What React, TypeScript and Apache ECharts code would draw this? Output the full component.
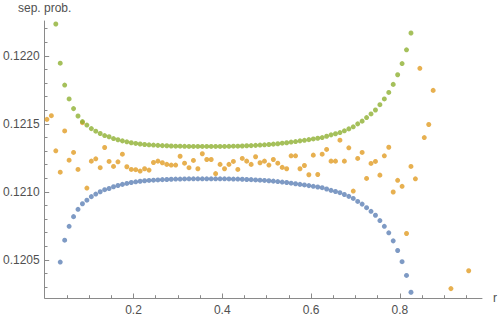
import React, { useEffect, useRef } from "react";
import * as echarts from "echarts";

// r values shared by the blue and green series
const rValues = [
  0.025, 0.035, 0.045, 0.055, 0.065, 0.075, 0.085, 0.095, 0.105, 0.115,
  0.125, 0.135, 0.145, 0.155, 0.165, 0.175, 0.185, 0.195, 0.205, 0.215,
  0.225, 0.235, 0.245, 0.255, 0.265, 0.275, 0.285, 0.295, 0.305, 0.315,
  0.325, 0.335, 0.345, 0.355, 0.365, 0.375, 0.385, 0.395, 0.405, 0.415,
  0.425, 0.435, 0.445, 0.455, 0.465, 0.475, 0.485, 0.495, 0.505, 0.515,
  0.525, 0.535, 0.545, 0.555, 0.565, 0.575, 0.585, 0.595, 0.605, 0.615,
  0.625, 0.635, 0.645, 0.655, 0.665, 0.675, 0.685, 0.695, 0.705, 0.715,
  0.725, 0.735, 0.745, 0.755, 0.765, 0.775, 0.785, 0.795, 0.805, 0.815,
  0.825,
];

const blueValues = [
  0.120196, 0.120484, 0.120645, 0.120747, 0.120818, 0.120872, 0.120913, 0.120939, 0.120965, 0.120984,
  0.121001, 0.121016, 0.121025, 0.121038, 0.121047, 0.121055, 0.121062, 0.121069, 0.121074, 0.121078,
  0.121082, 0.121084, 0.121086, 0.121088, 0.12109, 0.121091, 0.121093, 0.121094, 0.121094, 0.121095,
  0.121096, 0.121096, 0.121096, 0.121096, 0.121096, 0.121096, 0.121096, 0.121096, 0.121096, 0.121095,
  0.121094, 0.121094, 0.121093, 0.121091, 0.12109, 0.121088, 0.121086, 0.121084, 0.121082, 0.121079,
  0.121076, 0.121072, 0.121069, 0.121064, 0.12106, 0.121055, 0.121051, 0.121046, 0.121041, 0.121036,
  0.121031, 0.121021, 0.121011, 0.121003, 0.120994, 0.120981, 0.120967, 0.120952, 0.12093, 0.12091,
  0.120884, 0.120857, 0.120828, 0.120789, 0.120747, 0.120699, 0.12064, 0.120569, 0.120487, 0.120386,
  0.120262,
];

const greenValues = [
  0.122234, 0.121946, 0.121785, 0.121683, 0.121612, 0.121558, 0.121517, 0.121491, 0.121465, 0.121446,
  0.121429, 0.121414, 0.121405, 0.121392, 0.121383, 0.121375, 0.121368, 0.121361, 0.121356, 0.121352,
  0.121348, 0.121346, 0.121344, 0.121342, 0.12134, 0.121339, 0.121337, 0.121336, 0.121336, 0.121335,
  0.121334, 0.121334, 0.121334, 0.121334, 0.121334, 0.121334, 0.121334, 0.121334, 0.121334, 0.121335,
  0.121336, 0.121336, 0.121337, 0.121339, 0.12134, 0.121342, 0.121344, 0.121346, 0.121348, 0.121351,
  0.121354, 0.121358, 0.121361, 0.121366, 0.12137, 0.121375, 0.121379, 0.121384, 0.121389, 0.121394,
  0.121399, 0.121409, 0.121419, 0.121427, 0.121436, 0.121449, 0.121463, 0.121478, 0.1215, 0.12152,
  0.121546, 0.121573, 0.121602, 0.121641, 0.121683, 0.121731, 0.12179, 0.121861, 0.121943, 0.122044,
  0.122168,
];

const orangeR = [
  0.005, 0.015, 0.025, 0.035, 0.045, 0.055, 0.065, 0.075, 0.085, 0.095,
  0.105, 0.115, 0.125, 0.135, 0.145, 0.155, 0.165, 0.175, 0.185, 0.195,
  0.205, 0.215, 0.225, 0.235, 0.245, 0.255, 0.265, 0.275, 0.285, 0.295,
  0.305, 0.315, 0.325, 0.335, 0.345, 0.355, 0.365, 0.375, 0.385, 0.395,
  0.405, 0.415, 0.425, 0.435, 0.445, 0.455, 0.465, 0.475, 0.485, 0.495,
  0.505, 0.515, 0.525, 0.535, 0.545, 0.555, 0.565, 0.575, 0.585, 0.595,
  0.605, 0.615, 0.625, 0.635, 0.645, 0.655, 0.665, 0.675, 0.685, 0.695,
  0.705, 0.715, 0.725, 0.735, 0.745, 0.755, 0.765, 0.775, 0.785, 0.795,
  0.805, 0.815, 0.825, 0.835, 0.845, 0.855, 0.865, 0.875, 0.915, 0.955,
];

const orangeValues = [
  0.121533, 0.12156, 0.121302, 0.121145, 0.121448, 0.121233, 0.12129, 0.121165, 0.121509, 0.121028,
  0.121226, 0.121243, 0.121178, 0.121326, 0.121224, 0.121187, 0.121221, 0.121277, 0.121185, 0.121165,
  0.121163, 0.121153, 0.12117, 0.12116, 0.121216, 0.121226, 0.121214, 0.121202, 0.121197, 0.121197,
  0.121262, 0.121211, 0.121178, 0.121231, 0.12117, 0.12128, 0.121238, 0.121238, 0.121134, 0.121202,
  0.12117, 0.121202, 0.121224, 0.121165, 0.121246, 0.121226, 0.121202, 0.121258, 0.121214, 0.121226,
  0.121197, 0.121238, 0.121211, 0.12118, 0.12117, 0.121265, 0.121265, 0.12117, 0.121194, 0.121126,
  0.12127, 0.121128, 0.121277, 0.121312, 0.121226, 0.121226, 0.12138, 0.121226, 0.121324, 0.121006,
  0.121246, 0.12129, 0.121099, 0.121209, 0.121224, 0.121123, 0.121265, 0.121328, 0.120999, 0.121085,
  0.121041, 0.120694, 0.121187, 0.121096, 0.121908, 0.121399, 0.121495, 0.121746, 0.120289, 0.12042,
];

const xMajorTicks = [0.2, 0.4, 0.6, 0.8];
const xMinorTicks = [0.05, 0.1, 0.15, 0.25, 0.3, 0.35, 0.45, 0.5, 0.55, 0.65, 0.7, 0.75, 0.85, 0.9, 0.95];
const yMajorTicks = [0.1205, 0.121, 0.1215, 0.122];
const yMinorTicks = [
  0.1203, 0.1204, 0.1206, 0.1207, 0.1208, 0.1209, 0.1211, 0.1212, 0.1213, 0.1214,
  0.1216, 0.1217, 0.1218, 0.1219, 0.1221, 0.1222,
];

const X_MIN = 0;
const X_MAX = 0.985;
const Y_MIN = 0.12022;
const Y_MAX = 0.122256;

const AXIS_COLOR = "#8a8a8a";
const LABEL_COLOR = "#505050";
const FONT = "'Liberation Sans', Arial, sans-serif";

export default function App() {
  const ref = useRef<HTMLDivElement>(null);

  useEffect(() => {
    if (!ref.current) return;
    const chart = echarts.init(ref.current, null, { renderer: "svg" });

    const pairs = (xs: number[], ys: number[]) => xs.map((x, i) => [x, ys[i]]);

    const baseY = {
      type: "value",
      min: Y_MIN,
      max: Y_MAX,
      position: "left",
      splitLine: { show: false },
    };
    const baseX = {
      type: "value",
      min: X_MIN,
      max: X_MAX,
      position: "bottom",
      splitLine: { show: false },
    };

    chart.setOption({
      animation: false,
      backgroundColor: "#ffffff",
      textStyle: { fontFamily: FONT },
      grid: { left: 43, right: 16, top: 21, bottom: 17, containLabel: false },
      xAxis: [
        {
          ...baseX,
          name: "r",
          nameLocation: "end",
          nameGap: 11,
          nameTextStyle: { color: LABEL_COLOR, fontSize: 12, fontFamily: FONT },
          axisLine: { show: true, lineStyle: { color: AXIS_COLOR, width: 1 } },
          axisTick: {
            show: true,
            inside: true,
            length: 4.5,
            customValues: xMajorTicks,
            lineStyle: { color: AXIS_COLOR, width: 1 },
          },
          axisLabel: {
            show: true,
            customValues: xMajorTicks,
            margin: 6,
            color: LABEL_COLOR,
            fontSize: 12,
            fontFamily: FONT,
            formatter: (v: number) => v.toFixed(1),
          },
        },
        {
          ...baseX,
          axisLine: { show: false },
          axisTick: {
            show: true,
            inside: true,
            length: 2.8,
            customValues: xMinorTicks,
            lineStyle: { color: AXIS_COLOR, width: 1 },
          },
          axisLabel: { show: false },
        },
      ],
      yAxis: [
        {
          ...baseY,
          name: "sep. prob.",
          nameLocation: "end",
          nameGap: 7,
          nameTextStyle: { color: LABEL_COLOR, fontSize: 12, fontFamily: FONT },
          axisLine: { show: true, lineStyle: { color: AXIS_COLOR, width: 1 } },
          axisTick: {
            show: true,
            inside: true,
            length: 4.5,
            customValues: yMajorTicks,
            lineStyle: { color: AXIS_COLOR, width: 1 },
          },
          axisLabel: {
            show: true,
            customValues: yMajorTicks,
            margin: 5,
            color: LABEL_COLOR,
            fontSize: 12,
            fontFamily: FONT,
            formatter: (v: number) => v.toFixed(4),
          },
        },
        {
          ...baseY,
          axisLine: { show: false },
          axisTick: {
            show: true,
            inside: true,
            length: 2.8,
            customValues: yMinorTicks,
            lineStyle: { color: AXIS_COLOR, width: 1 },
          },
          axisLabel: { show: false },
        },
      ],
      series: [
        {
          type: "scatter",
          xAxisIndex: 0,
          yAxisIndex: 0,
          data: pairs(rValues, blueValues),
          symbol: "circle",
          symbolSize: 5,
          itemStyle: { color: "#5E81B5" },
          silent: true,
        },
        {
          type: "scatter",
          xAxisIndex: 0,
          yAxisIndex: 0,
          data: pairs(orangeR, orangeValues),
          symbol: "circle",
          symbolSize: 5,
          itemStyle: { color: "#E19C24" },
          silent: true,
        },
        {
          type: "scatter",
          xAxisIndex: 0,
          yAxisIndex: 0,
          data: pairs(rValues, greenValues),
          symbol: "circle",
          symbolSize: 5,
          itemStyle: { color: "#8FB032" },
          silent: true,
        },
      ],
    });

    return () => chart.dispose();
  }, []);

  return (
    <div
      ref={ref}
      style={{ position: "absolute", left: 0, top: 0, width: 500, height: 316 }}
    />
  );
}
